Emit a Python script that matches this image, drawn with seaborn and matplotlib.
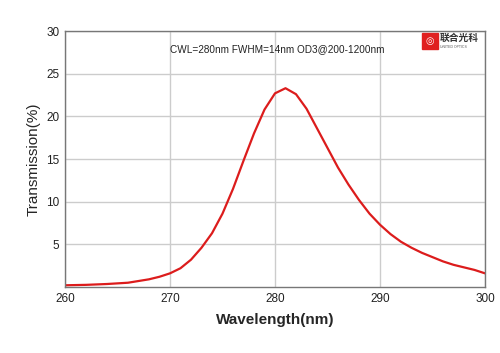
import numpy as np
import pandas as pd
import matplotlib
matplotlib.use("Agg")
import matplotlib.pyplot as plt
import seaborn as sns

wavelength = [260, 262, 264, 266, 267, 268, 269, 270, 271, 272, 273, 274, 275, 276, 277,
              278, 279, 280, 281, 282, 283, 284, 285, 286, 287, 288, 289, 290, 291, 292,
              293, 294, 295, 296, 297, 298, 299, 300]
transmission = [0.2, 0.25, 0.35, 0.5, 0.7, 0.9, 1.2, 1.6, 2.2, 3.2, 4.6, 6.3, 8.6, 11.5, 14.8,
                18.0, 20.8, 22.7, 23.3, 22.6, 20.9, 18.6, 16.3, 14.0, 12.0, 10.2, 8.6, 7.3, 6.2, 5.3,
                4.6, 4.0, 3.5, 3.0, 2.6, 2.3, 2.0, 1.6]
y_ticks = [5, 10, 15, 20, 25, 30]
x_ticks = [260, 270, 280, 290, 300]

df = pd.DataFrame({"wl": wavelength, "t": transmission})

sns.set_style("white")
plt.rcParams['font.family'] = ['Liberation Sans', 'Noto Sans CJK SC', 'DejaVu Sans']

fig = plt.figure(figsize=(5, 3.53), dpi=100)
ax = fig.add_axes([0.13, 0.187, 0.84, 0.725])

sns.lineplot(data=df, x="wl", y="t", color="#dc1c1c", linewidth=1.6, ax=ax)

ax.set_xlim(260, 300)
ax.set_ylim(0, 30)
ax.set_xticks(x_ticks)
ax.set_yticks(y_ticks)
ax.grid(True, color="#cccccc", linewidth=1)
ax.set_axisbelow(True)
for s in ax.spines.values():
    s.set_color("#777777")
    s.set_linewidth(1)
ax.tick_params(length=0, labelsize=8.5, colors="#222222", pad=4)

ax.set_xlabel("Wavelength(nm)", fontsize=11, fontweight="bold", labelpad=6)
ax.set_ylabel("Transmission(%)", fontsize=11, labelpad=4)

ax.text(0.506, 0.93, "CWL=280nm FWHM=14nm OD3@200-1200nm", transform=ax.transAxes,
        ha="center", va="center", fontsize=7.2, color="#222222")

# logo
fig.patches.append(plt.Rectangle((0.843, 0.862), 0.032, 0.045, transform=fig.transFigure,
                                 color="#e02020", zorder=5))
fig.text(0.859, 0.884, "◎", ha="center", va="center", color="white", fontsize=7,
         family=['DejaVu Sans'], zorder=6)
fig.text(0.88, 0.892, "联合光科", ha="left", va="center", fontsize=7, fontweight="bold",
         color="#333333", family=['Noto Sans CJK SC', 'DejaVu Sans'])
fig.text(0.88, 0.867, "UNITED OPTICS", ha="left", va="center", fontsize=2.5,
         color="#555555")

fig.savefig("out.png", dpi=100)
